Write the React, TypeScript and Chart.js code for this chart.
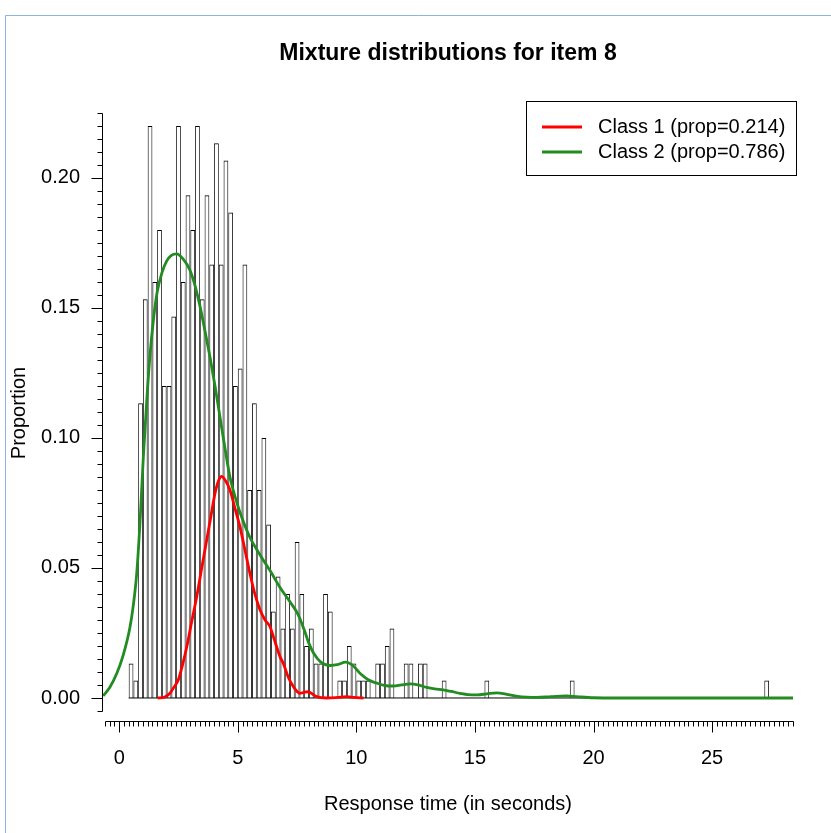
import React, { useEffect, useRef } from 'react';
import { Chart, registerables } from 'chart.js';

Chart.register(...registerables);

const TITLE = 'Mixture distributions for item 8';
const X_LABEL = 'Response time (in seconds)';
const Y_LABEL = 'Proportion';
const LEGEND_LABELS = ['Class 1 (prop=0.214)', 'Class 2 (prop=0.786)'];
const LEGEND_COLORS = ['#FF0000', '#228B22'];

// Histogram: left edges of non-empty bins (width 0.2 s) and bar heights
const BIN_WIDTH = 0.2;
const HIST_FIRST = 0.4;
const HIST_LAST = 27.4;
const HIST_LEFT = [
  0.4, 0.6, 0.8, 1.0, 1.2, 1.4, 1.6, 1.8, 2.0, 2.2, 2.4, 2.6, 2.8, 3.0, 3.2, 3.4, 3.6, 3.8,
  4.0, 4.2, 4.4, 4.6, 4.8, 5.0, 5.2, 5.4, 5.6, 5.8, 6.0, 6.2, 6.4, 6.6, 6.8, 7.0, 7.2, 7.4,
  7.6, 7.8, 8.0, 8.2, 8.4, 8.6, 8.8, 9.2, 9.4, 9.6, 9.8, 10.0, 10.2, 10.4, 10.8, 11.0, 11.2,
  11.4, 12.0, 12.2, 12.6, 12.8, 13.6, 15.4, 19.0, 27.2,
];
const HIST_HEIGHT = [
  0.0133, 0.0067, 0.1133, 0.1533, 0.22, 0.16, 0.18, 0.12, 0.12, 0.1467, 0.22, 0.16, 0.1933, 0.18, 0.22, 0.1533, 0.1933, 0.1667,
  0.2133, 0.1667, 0.2067, 0.1867, 0.12, 0.1267, 0.1667, 0.08, 0.1133, 0.08, 0.1, 0.0667, 0.0333, 0.0467, 0.0267, 0.04, 0.0267, 0.06,
  0.04, 0.02, 0.0267, 0.0133, 0.0133, 0.04, 0.0333, 0.0067, 0.0067, 0.02, 0.0133, 0.0067, 0.0067, 0.0067, 0.0133, 0.0133, 0.02,
  0.0267, 0.0133, 0.0133, 0.0133, 0.0133, 0.0067, 0.0067, 0.0067, 0.0067,
];

// Class 1 density (red)
const CLASS1_X = [
  1.62, 1.9, 2.14, 2.3, 2.49, 2.65, 2.85, 3.05, 3.27, 3.48, 3.69, 3.87, 4.04, 4.2, 4.32, 4.45,
  4.67, 4.88, 5.09, 5.3, 5.51, 5.72, 5.94, 6.15, 6.36, 6.5, 6.78, 6.92, 7.13, 7.34, 7.5, 7.62,
  7.8, 7.97, 8.15, 8.33, 8.75, 9.2, 9.59, 9.9, 10.3,
];
const CLASS1_Y = [
  0, 0.0003, 0.0018, 0.004, 0.0069, 0.012, 0.0197, 0.029, 0.039, 0.05, 0.0608, 0.07, 0.0787, 0.0838, 0.0852, 0.084,
  0.08, 0.073, 0.0659, 0.057, 0.048, 0.04, 0.0338, 0.03, 0.0274, 0.0236, 0.0159, 0.0133, 0.008, 0.0044, 0.0025, 0.0018,
  0.0022, 0.0024, 0.0015, 0.0005, 0, 0.0002, 0.0005, 0.0002, 0,
];

// Class 2 density (green)
const CLASS2_X = [
  -0.68, -0.4, -0.1, 0.17, 0.45, 0.6, 0.74, 0.88, 1.02, 1.16, 1.3, 1.45, 1.6, 1.8, 2.0, 2.2, 2.42,
  2.7, 2.98, 3.2, 3.41, 3.62, 3.83, 4.04, 4.25, 4.46, 4.67, 5.0, 5.23, 5.5, 5.94, 6.36, 6.78, 7.2,
  7.55, 7.8, 8.0, 8.2, 8.5, 8.9, 9.2, 9.55, 9.85, 10.15, 10.5, 10.86, 11.2, 11.56, 11.9, 12.26,
  12.6, 12.96, 13.3, 13.66, 14.0, 14.37, 14.7, 15.1, 15.5, 15.92, 16.3, 16.8, 17.2, 17.6, 18.2,
  18.85, 19.3, 20.0, 21.0, 28.41,
];
const CLASS2_Y = [
  0.0008, 0.004, 0.0095, 0.0165, 0.027, 0.036, 0.048, 0.068, 0.093, 0.114, 0.132, 0.146, 0.156, 0.1635, 0.168, 0.1702, 0.1708,
  0.1688, 0.1646, 0.1585, 0.1505, 0.141, 0.131, 0.12, 0.108, 0.096, 0.085, 0.074, 0.068, 0.062, 0.055, 0.049, 0.0425, 0.037,
  0.032, 0.0262, 0.021, 0.0172, 0.0138, 0.0125, 0.0128, 0.0138, 0.0125, 0.0095, 0.007, 0.0057, 0.0048, 0.0046, 0.005, 0.0054,
  0.005, 0.0041, 0.0035, 0.0031, 0.0025, 0.0018, 0.0013, 0.0012, 0.0016, 0.002, 0.0015, 0.0006, 0.0003, 0.0002, 0.0005,
  0.0008, 0.0005, 0.0001, 0, 0,
];

// Axes
const X_TICK_LABELS = [0, 5, 10, 15, 20, 25];
const Y_TICK_LABELS = [0, 0.05, 0.1, 0.15, 0.2];
const X_AXIS_FROM = -0.6;
const X_AXIS_TO = 28.4;
const X_MINOR_STEP = 0.2;
const Y_AXIS_FROM = -0.005;
const Y_AXIS_TO = 0.225;
const Y_MINOR_STEP = 0.005;
const X_MIN = -0.683;
const X_MAX = 28.41;
const Y_MIN = -0.00885;
const Y_MAX = 0.2288;

const FONT = '"Liberation Sans", Arial, Helvetica, sans-serif';

const decorPlugin = {
  id: 'decor',
  afterDraw(chart: any) {
    const { ctx, chartArea: ca, scales } = chart;
    const xs = scales.x;
    const ys = scales.y;
    ctx.save();

    // window frame
    ctx.strokeStyle = '#8db3e2';
    ctx.lineWidth = 1;
    ctx.beginPath();
    ctx.moveTo(5.5, 833);
    ctx.lineTo(5.5, 15.5);
    ctx.lineTo(831, 15.5);
    ctx.stroke();

    ctx.strokeStyle = '#000';
    ctx.fillStyle = '#000';
    ctx.lineWidth = 1;

    // x axis
    const ay = Math.round(ca.bottom) + 0.5;
    ctx.beginPath();
    ctx.moveTo(Math.round(xs.getPixelForValue(X_AXIS_FROM)) + 0.5, ay);
    ctx.lineTo(Math.round(xs.getPixelForValue(X_AXIS_TO)) + 0.5, ay);
    const nx = Math.round((X_AXIS_TO - X_AXIS_FROM) / X_MINOR_STEP);
    for (let i = 0; i <= nx; i++) {
      const v = X_AXIS_FROM + i * X_MINOR_STEP;
      const major = X_TICK_LABELS.some((t) => Math.abs(t - v) < 1e-6);
      const p = Math.round(xs.getPixelForValue(v)) + 0.5;
      ctx.moveTo(p, ay);
      ctx.lineTo(p, ay + (major ? 11 : 5));
    }
    ctx.stroke();

    // y axis
    const ax = Math.round(ca.left) - 0.5;
    ctx.beginPath();
    ctx.moveTo(ax, Math.round(ys.getPixelForValue(Y_AXIS_FROM)) + 0.5);
    ctx.lineTo(ax, Math.round(ys.getPixelForValue(Y_AXIS_TO)) + 0.5);
    const ny = Math.round((Y_AXIS_TO - Y_AXIS_FROM) / Y_MINOR_STEP);
    for (let i = 0; i <= ny; i++) {
      const v = Y_AXIS_FROM + i * Y_MINOR_STEP;
      const major = Y_TICK_LABELS.some((t) => Math.abs(t - v) < 1e-6);
      const p = Math.round(ys.getPixelForValue(v)) + 0.5;
      ctx.moveTo(ax, p);
      ctx.lineTo(ax - (major ? 11 : 5), p);
    }
    ctx.stroke();

    // tick labels
    ctx.font = `20px ${FONT}`;
    ctx.textAlign = 'center';
    ctx.textBaseline = 'middle';
    X_TICK_LABELS.forEach((t) => {
      ctx.fillText(String(t), xs.getPixelForValue(t), 758);
    });
    ctx.textAlign = 'right';
    Y_TICK_LABELS.forEach((t) => {
      ctx.fillText(t.toFixed(2), ca.left - 23, ys.getPixelForValue(t));
    });

    // axis titles
    ctx.textAlign = 'center';
    ctx.fillText(X_LABEL, (ca.left + ca.right) / 2, 804);
    ctx.save();
    ctx.translate(19, 413);
    ctx.rotate(-Math.PI / 2);
    ctx.fillText(Y_LABEL, 0, 0);
    ctx.restore();

    // title
    ctx.font = `bold 23px ${FONT}`;
    ctx.fillText(TITLE, (ca.left + ca.right) / 2, 54);

    // legend
    const lx = 526.5;
    const ly = 101.5;
    ctx.lineWidth = 1;
    ctx.strokeStyle = '#000';
    ctx.strokeRect(lx, ly, 270, 74);
    ctx.font = `20px ${FONT}`;
    ctx.textAlign = 'left';
    LEGEND_LABELS.forEach((lab, i) => {
      const yy = 127 + i * 25;
      ctx.strokeStyle = LEGEND_COLORS[i];
      ctx.lineWidth = 3;
      ctx.beginPath();
      ctx.moveTo(542, yy);
      ctx.lineTo(582, yy);
      ctx.stroke();
      ctx.fillStyle = '#000';
      ctx.fillText(lab, 598, yy);
    });

    ctx.restore();
  },
};

export default function App() {
  const ref = useRef<HTMLCanvasElement | null>(null);

  useEffect(() => {
    if (!ref.current) return;
    const chart = new Chart(ref.current, {
      type: 'bar',
      data: {
        datasets: [
          {
            type: 'line',
            label: 'Class 2',
            data: CLASS2_X.map((x, i) => ({ x, y: CLASS2_Y[i] })),
            borderColor: '#228B22',
            borderWidth: 2.8,
            pointRadius: 0,
            cubicInterpolationMode: 'monotone',
            fill: false,
            order: 1,
          },
          {
            type: 'line',
            label: 'Class 1',
            data: CLASS1_X.map((x, i) => ({ x, y: CLASS1_Y[i] })),
            borderColor: '#FF0000',
            borderWidth: 2.8,
            pointRadius: 0,
            cubicInterpolationMode: 'monotone',
            fill: false,
            order: 2,
          },
          {
            type: 'line',
            label: 'baseline',
            data: [
              { x: HIST_FIRST, y: 0 },
              { x: HIST_LAST, y: 0 },
            ],
            borderColor: '#000',
            borderWidth: 1,
            pointRadius: 0,
            fill: false,
            order: 3,
          },
          {
            type: 'bar',
            label: 'Histogram',
            data: HIST_LEFT.map((l, i) => ({ x: l + BIN_WIDTH / 2, y: HIST_HEIGHT[i] })),
            backgroundColor: 'rgba(0,0,0,0)',
            borderColor: '#000',
            borderWidth: { top: 1, left: 0.8, right: 0.8, bottom: 0 },
            inflateAmount: 0,
            barPercentage: 1,
            categoryPercentage: 1,
            order: 4,
          },
        ],
      } as any,
      options: {
        responsive: false,
        animation: false,
        events: [],
        layout: { padding: { left: 103, right: 38, top: 103, bottom: 112 } },
        plugins: {
          legend: { display: false },
          title: { display: false },
          tooltip: { enabled: false },
        },
        scales: {
          x: { type: 'linear', min: X_MIN, max: X_MAX, offset: false, display: false },
          y: { type: 'linear', min: Y_MIN, max: Y_MAX, display: false },
        },
      } as any,
      plugins: [decorPlugin],
    });
    return () => chart.destroy();
  }, []);

  return (
    <div style={{ position: 'fixed', left: 0, top: 0, width: 831, height: 833, background: '#fff' }}>
      <canvas ref={ref} width={831} height={833} style={{ display: 'block' }} />
    </div>
  );
}
